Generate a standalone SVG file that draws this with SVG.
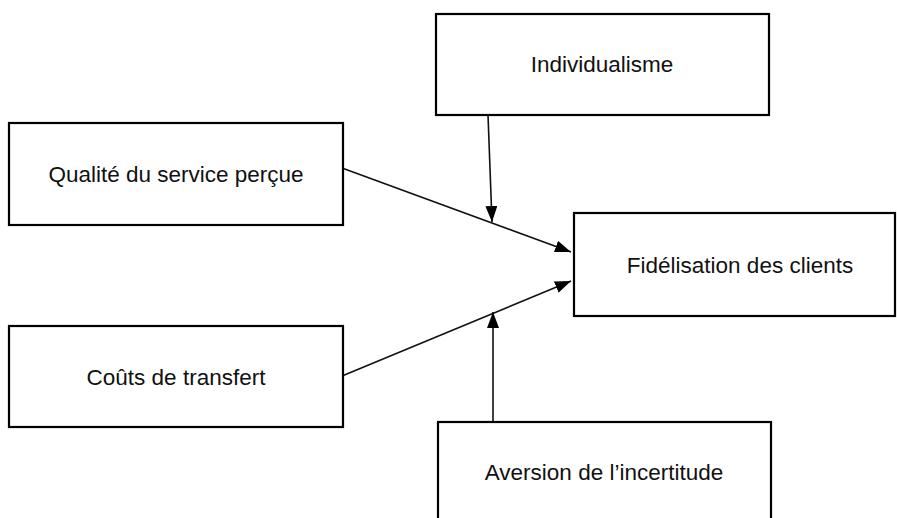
<svg xmlns="http://www.w3.org/2000/svg" width="897" height="518" viewBox="0 0 897 518">
<style>
.box{fill:#fff;stroke:#000;stroke-width:2.2}
.lbl{font-family:"Liberation Sans",Arial,sans-serif;font-size:22.5px;fill:#111;text-anchor:middle}
.arr{stroke:#111;stroke-width:1.6;fill:none;marker-end:url(#ah)}
</style>
<defs>
<marker id="ah" viewBox="0 0 16 12" refX="16" refY="6" markerWidth="16" markerHeight="12" orient="auto" markerUnits="userSpaceOnUse">
<path d="M0,0 L16,6 L0,12 Z" fill="#000"/>
</marker>
</defs>
<rect width="897" height="518" fill="#fff"/>
<g id="connectors">
<line class="arr" x1="342" y1="168" x2="571" y2="252"/>
<line class="arr" x1="342" y1="376" x2="571" y2="281"/>
<line class="arr" x1="488" y1="115" x2="492" y2="222"/>
<line class="arr" x1="493" y1="421" x2="493" y2="312"/>
</g>
<g id="individualisme">
<rect class="box" x="436" y="14" width="333" height="101"/>
<text class="lbl" x="602" y="72">Individualisme</text>
</g>
<g id="qualite">
<rect class="box" x="9" y="123" width="334" height="102"/>
<text class="lbl" x="176" y="182">Qualité du service perçue</text>
</g>
<g id="couts">
<rect class="box" x="9" y="326" width="334" height="101"/>
<text class="lbl" x="176" y="385">Coûts de transfert</text>
</g>
<g id="fidelisation">
<rect class="box" x="574" y="213" width="321" height="103"/>
<text class="lbl" x="740" y="273">Fidélisation des clients</text>
</g>
<g id="aversion">
<rect class="box" x="438" y="422" width="333" height="110"/>
<text class="lbl" x="604" y="480">Aversion de l’incertitude</text>
</g>
</svg>
